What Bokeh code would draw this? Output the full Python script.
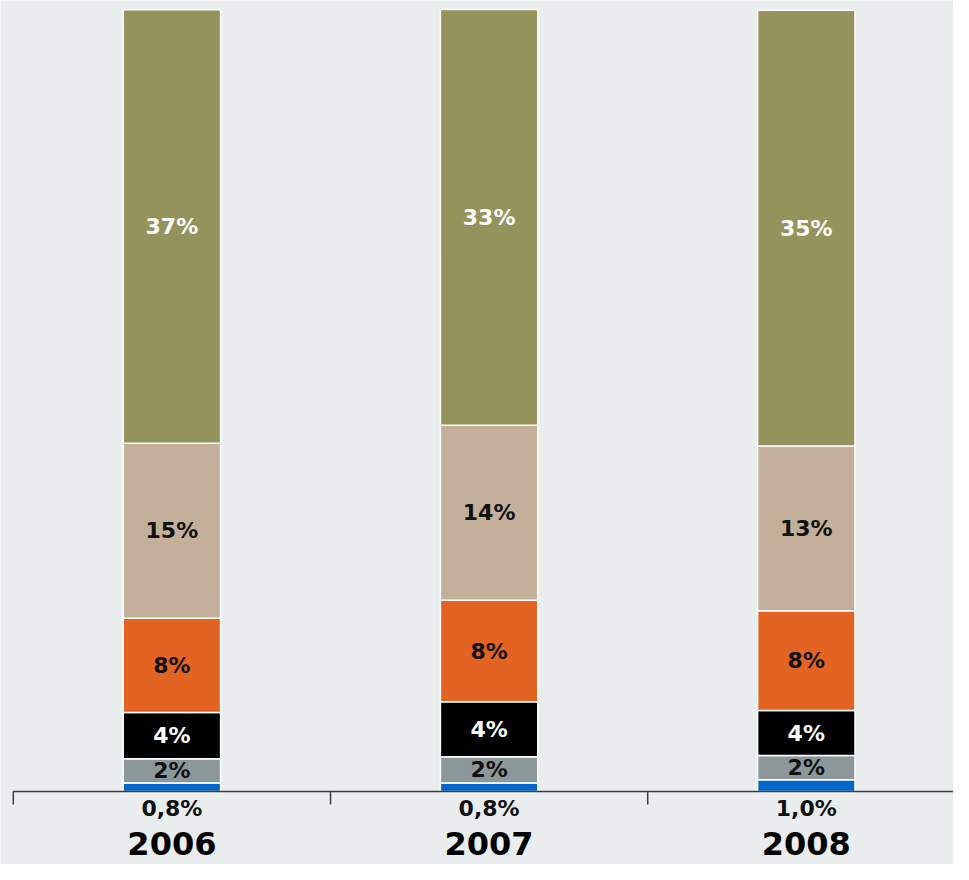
import math
from bokeh.plotting import figure
from bokeh.models import Range1d, ColumnDataSource, LabelSet
from bokeh.embed import file_html
from bokeh.resources import INLINE
from bokeh.core.properties import value

# ---- data (shares, bottom to top) ----
years = ["2006", "2007", "2008"]
bottom_labels = ["0,8%", "0,8%", "1,0%"]

blue = [0.72, 0.72, 1.00]
gray = [2.06, 2.23, 2.05]
black = [3.92, 4.67, 3.83]
orange = [8.00, 8.61, 8.47]
tan = [14.86, 14.87, 13.98]
olive = [36.81, 35.28, 37.00]

gray_labels = ["2%", "2%", "2%"]
black_labels = ["4%", "4%", "4%"]
orange_labels = ["8%", "8%", "8%"]
tan_labels = ["15%", "14%", "13%"]
olive_labels = ["37%", "33%", "35%"]

series = ["blue", "gray", "black", "orange", "tan", "olive"]
series_values = [blue, gray, black, orange, tan, olive]
series_colors = ["#0066CC", "#8C979A", "#000000", "#E26322", "#C3AF9A", "#94935C"]
series_labels = [None, gray_labels, black_labels, orange_labels, tan_labels, olive_labels]
label_colors = [None, "#111111", "#FFFFFF", "#111111", "#111111", "#FFFFFF"]

BG = "#E9EDEE"
AXIS = "#3C3C3C"
FONT = "DejaVu Sans"

W, H = 953, 864
PX_PER_UNIT = 11.78      # vertical scale (px per percentage point)
AXIS_Y = 791             # pixel row of the baseline
CAT_PX = 317.2           # pixel width of one category slot
X0_PX = 12.8             # pixel column of the first slot boundary

xs = [i + 0.5 for i in range(len(years))]
boundaries = [float(i) for i in range(len(years))]
data = {"x": xs, "year": years, "bottom_label": bottom_labels}
for name, vals in zip(series, series_values):
    data[name] = vals
src = ColumnDataSource(data)

p = figure(width=W, height=H, output_backend="svg", toolbar_location=None,
           x_range=Range1d(-X0_PX / CAT_PX, (W - X0_PX) / CAT_PX),
           y_range=Range1d(-(H - AXIS_Y) / PX_PER_UNIT, AXIS_Y / PX_PER_UNIT),
           x_axis_type=None, y_axis_type=None,
           min_border_left=0, min_border_right=0, min_border_top=0, min_border_bottom=0)
p.background_fill_color = BG
p.border_fill_color = BG
p.outline_line_color = None
p.grid.visible = False

p.vbar_stack(series, x="x", width=0.307, color=series_colors, source=src,
             line_color="white", line_width=1.5)

# segment labels
for i, (name, labs, col) in enumerate(zip(series, series_labels, label_colors)):
    if labs is None:
        continue
    ys = []
    for j in range(len(years)):
        base = sum(series_values[k][j] for k in range(i))
        ys.append(base + series_values[i][j] / 2)
    s = ColumnDataSource({"x": xs, "y": ys, "t": labs})
    p.add_layout(LabelSet(x="x", y="y", text="t", source=s, text_align="center",
                          text_baseline="middle", text_color=col,
                          text_font=value(FONT), text_font_style="bold",
                          text_font_size="22px"))

# baseline and slot-boundary ticks
p.ray(x=[boundaries[0]], y=[0], length=0, angle=0, line_color=AXIS, line_width=1.5)
p.ray(x=boundaries, y=[0] * len(boundaries), length=13, length_units="screen",
      angle=-math.pi / 2, line_color=AXIS, line_width=1.5)

# labels below the baseline
p.add_layout(LabelSet(x="x", y=0, text="bottom_label", source=src, y_offset=-17,
                      text_align="center", text_baseline="middle", text_color="#111111",
                      text_font=value(FONT), text_font_style="bold", text_font_size="22px"))
p.add_layout(LabelSet(x="x", y=0, text="year", source=src, y_offset=-52,
                      text_align="center", text_baseline="middle", text_color="#000000",
                      text_font=value(FONT), text_font_style="bold", text_font_size="32px"))

open("out.html", "w").write(file_html(p, INLINE))
